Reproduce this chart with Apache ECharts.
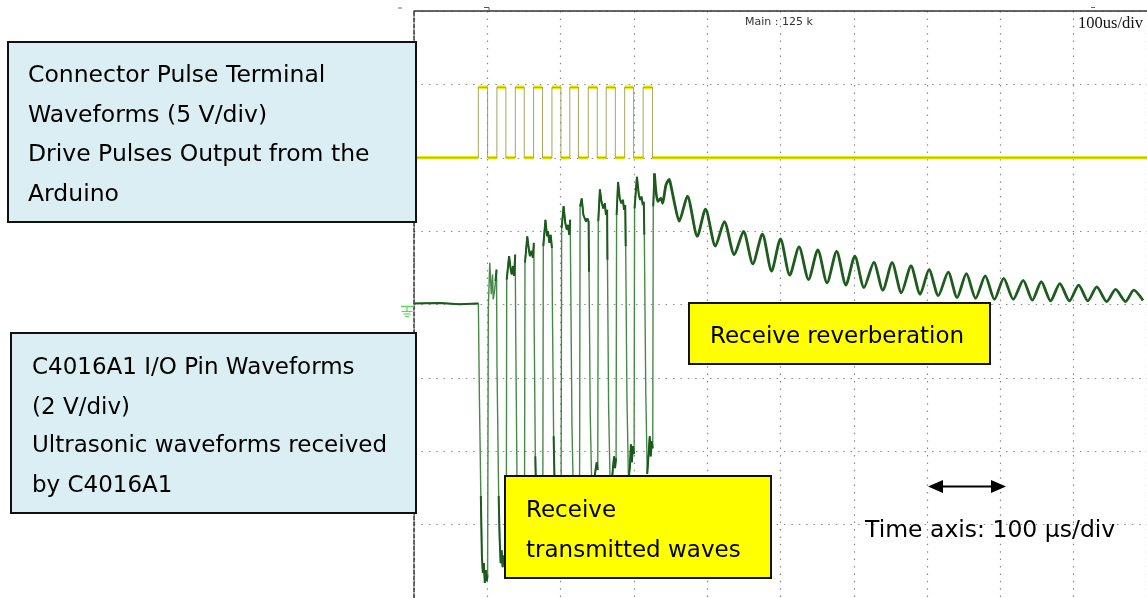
<!DOCTYPE html>
<html><head><meta charset="utf-8">
<script src="https://cdn.jsdelivr.net/npm/echarts@6/dist/echarts.min.js"></script>
<style>html,body{margin:0;padding:0;background:#fff}#c{width:1147px;height:598px}</style>
</head><body><div id="c"></div>
<script>
// ---- Drive pulses (yellow, 5 V/div), time in microseconds ----
const pulseRise = [87.8, 113.1, 138.2, 163.1, 188.2, 212.6, 237.8, 262.2, 287.4, 312.6];
const pulseFall = [100.4, 125.3, 150.4, 175.3, 200.4, 224.3, 250.0, 274.7, 299.6, 325.3];
const pulseHigh = 4.8;   // V
const pulseLow = 0;      // V
const timeEnd = 1000;    // us (10 div x 100 us)

// ---- C4016A1 I/O pin, transmit phase (green, 2 V/div) ----
const txTime = [0, 35.1, 62.2, 87.8, 89.2, 91.2, 92.6, 93.9, 95.3, 96.6, 98.0, 99.3, 100.4,
 101.4, 103.4, 105.4, 107.2, 108.1, 109.9, 111.2, 112.6,
 113.2, 115.5, 116.9, 118.2, 119.6, 120.9, 123.0, 125.0, 125.9,
 126.5, 129.7, 132.0, 133.4, 135.1, 136.5, 138.1,
 138.8, 140.5, 142.6, 144.6, 146.6, 148.6, 150.7,
 151.4, 154.5, 156.8, 158.1, 160.4, 162.2, 163.5,
 163.9, 165.5, 167.6, 169.6, 171.6, 173.6, 175.7,
 176.4, 179.3, 181.5, 182.8, 184.7, 186.5, 188.2,
 188.8, 190.5, 192.6, 194.6, 196.6, 198.6, 200.7,
 201.4, 204.1, 206.4, 208.5, 209.9, 211.8, 213.1,
 213.9, 215.5, 217.6, 219.6, 221.6, 223.6, 225.9,
 226.6, 228.8, 231.1, 233.4, 234.7, 236.5, 238.2,
 238.8, 240.5, 242.6, 244.6, 246.6, 248.0, 249.3, 250.7,
 251.4, 253.6, 255.8, 258.1, 260.4, 261.8, 263.5,
 263.9, 265.5, 267.6, 269.6, 271.6, 273.0, 274.3, 275.7,
 276.4, 278.4, 280.7, 282.8, 285.1, 286.5, 288.2,
 288.8, 290.5, 292.6, 294.6, 295.9, 297.3, 298.6, 300.3,
 300.9, 304.1, 306.8, 308.5, 310.4, 312.2, 313.5,
 314.2, 316.2, 318.2, 320.3, 321.6, 323.0, 324.3, 325.7,
 326.4, 328.0];
const txVolt = [0.03, 0.04, 0.01, 0.03, -2.51, -5.22, -6.84, -7.32, -7.05, -7.59, -7.24, -7.54, -7.38,
 -0.08, 1.14, 0.28, 0.82, 0.14, 0.37, 0.64, 0.95,
 -1.65, -5.22, -6.43, -7.05, -6.70, -7.16, -6.84, -7.00, -6.62,
 0.68, 1.32, 0.95, 0.82, 1.05, 0.78, 1.36,
 -0.84, -4.68, -6.51, -6.73, -6.51, -6.43, -6.16,
 1.14, 1.86, 1.49, 1.32, 1.46, 1.27, 1.68,
 -0.46, -4.14, -6.16, -6.35, -6.08, -5.97, -5.70,
 1.59, 2.31, 1.86, 2.00, 1.68, 1.90, 1.54,
 -0.05, -3.59, -5.70, -5.89, -5.62, -5.54, -5.22,
 2.08, 2.68, 2.22, 2.04, 2.17, 1.90, 2.31,
 0.44, -3.32, -5.35, -5.49, -5.22, -5.08, -4.81,
 2.67, 2.89, 2.44, 2.49, 2.26, 2.35, 2.26,
 0.89, -3.05, -5.08, -5.16, -4.68, -4.46, -4.30, -4.51,
 2.27, 3.14, 2.80, 2.62, 2.76, 2.44, 2.58,
 1.22, -2.78, -4.95, -4.89, -4.41, -4.14, -4.46, -4.19,
 2.44, 3.34, 2.89, 2.76, 2.85, 2.58, 2.71,
 1.59, -2.51, -4.81, -4.41, -3.81, -4.30, -3.86, -4.08,
 2.62, 3.48, 2.98, 2.85, 2.94, 2.71, 2.80,
 1.90, -2.38, -4.62, -4.00, -3.59, -4.14, -3.73, -3.92,
 2.68, 3.57];

// ---- reverberation phase (green) ----
const revTime = [328.0, 332.4, 336.9, 339.2, 343.6, 348.2, 350.4, 355.4, 361.8, 373.0, 386.5,
 397.7, 411.2, 423.4, 436.9, 449.6, 462.2, 475.3, 487.8, 500.0, 512.6, 525.3, 538.2, 550.9,
 563.5, 576.6, 589.2, 601.4, 613.9, 627.4, 639.6, 652.3, 664.9, 678.0, 690.5, 702.7, 715.3,
 728.8, 740.9, 753.6, 766.2, 779.3, 791.9, 804.5, 817.6, 831.1, 843.6, 855.8, 868.5, 881.1,
 894.2, 906.8, 919.3, 931.5, 945.0, 957.2, 970.7, 982.0, 994.6];
const revVolt = [3.57, 2.81, 2.89, 2.76, 3.25, 3.41, 3.25, 2.76, 2.27, 2.95, 1.86,
 2.60, 1.59, 2.26, 1.36, 1.99, 1.11, 1.92, 0.91, 1.79, 0.80, 1.57, 0.68, 1.49,
 0.59, 1.45, 0.53, 1.32, 0.46, 1.15, 0.39, 1.14, 0.32, 1.05, 0.28, 0.95, 0.24,
 0.88, 0.19, 0.84, 0.17, 0.78, 0.14, 0.71, 0.14, 0.66, 0.12, 0.62, 0.10, 0.57,
 0.10, 0.53, 0.10, 0.48, 0.08, 0.41, 0.08, 0.39, 0.11];

// ---- build series data ----
const yellowFull = [[0, pulseLow]];
const yellowLevels = [[0, pulseLow]];
for (let i = 0; i < pulseRise.length; i++) {
  yellowFull.push([pulseRise[i], pulseLow], [pulseRise[i], pulseHigh], [pulseFall[i], pulseHigh], [pulseFall[i], pulseLow]);
  yellowLevels.push([pulseRise[i], pulseLow], [pulseRise[i], '-'], [pulseRise[i], pulseHigh], [pulseFall[i], pulseHigh], [pulseFall[i], '-'], [pulseFall[i], pulseLow]);
}
yellowFull.push([timeEnd, pulseLow]);
yellowLevels.push([timeEnd, pulseLow]);
const txData = txTime.map((t, i) => [t, txVolt[i]]);
const revData = revTime.map((t, i) => [t, revVolt[i]]);
// plateau segments (high, low and ground phases) drawn darker, edges stay thin
const cls = v => v > 0.5 ? 1 : (v < -3.5 ? -1 : (Math.abs(v) < 0.1 ? 2 : 0));
const txPlateau = [];
txTime.forEach((t, i) => {
  const c = cls(txVolt[i]);
  if (c === 0) { txPlateau.push([t, '-']); return; }
  if (i > 0 && cls(txVolt[i - 1]) !== c) txPlateau.push([t, '-']);
  txPlateau.push([t, txVolt[i]]);
});

const chart = echarts.init(document.getElementById('c'), null, {renderer: 'canvas'});
const F = '"DejaVu Sans", sans-serif';
const txt = (s, x, y, size) => ({type: 'text', x: x, y: y, z: 110,
  style: {text: s, font: size + 'px ' + F, fill: '#000', textVerticalAlign: 'middle', verticalAlign: 'middle'}});
const dotted = {color: '#8a8a8a', width: 1.2, type: [1.5, 5.9]};

chart.setOption({
  animation: false,
  backgroundColor: '#fff',
  grid: {left: 414, top: 11, width: 740, height: 592},
  xAxis: {type: 'value', min: 0, max: timeEnd, interval: 100, position: 'top',
    axisLine: {show: true, onZero: false, lineStyle: {color: '#333', width: 1.5}},
    axisTick: {show: false}, axisLabel: {show: false},
    splitLine: {show: true, lineStyle: dotted}},
  yAxis: [
    {type: 'value', min: -8, max: 8, interval: 2,
      axisLine: {show: true, onZero: false, lineStyle: {color: '#333', width: 1.5, type: [4, 2]}},
      axisTick: {show: false}, axisLabel: {show: false},
      splitLine: {show: true, lineStyle: dotted}},
    {type: 'value', min: -30, max: 10, interval: 5, show: false, splitLine: {show: false}}
  ],
  series: [
    {type: 'line', yAxisIndex: 1, data: yellowLevels, showSymbol: false, connectNulls: false,
      lineStyle: {color: '#eeee10', width: 3.6}, z: 2},
    {type: 'line', yAxisIndex: 1, data: yellowFull, showSymbol: false,
      lineStyle: {color: '#8e8e3c', width: 1, opacity: 0.8}, z: 3},
    {type: 'line', yAxisIndex: 0, data: txData, showSymbol: false,
      lineStyle: {color: '#478a47', width: 1.4}, z: 4},
    {type: 'line', yAxisIndex: 0, data: txPlateau, showSymbol: false, connectNulls: false,
      lineStyle: {color: '#1d5a1d', width: 2}, z: 5},
    {type: 'line', yAxisIndex: 0, data: revData, showSymbol: false, smooth: 0.25,
      lineStyle: {color: '#1d5c1d', width: 2.8}, z: 5}
  ],
  graphic: {elements: [
    // small top marks
    {type: 'line', z: 50, shape: {x1: 398, y1: 8, x2: 402, y2: 8}, style: {stroke: '#666', lineWidth: 1}},
    {type: 'line', z: 50, shape: {x1: 484, y1: 7.5, x2: 489, y2: 7.5}, style: {stroke: '#555', lineWidth: 1}},
    {type: 'line', z: 50, shape: {x1: 489, y1: 7.5, x2: 489, y2: 10}, style: {stroke: '#555', lineWidth: 1}},
    {type: 'line', z: 50, shape: {x1: 1091, y1: 7.5, x2: 1095, y2: 7.5}, style: {stroke: '#666', lineWidth: 1}},
    // ground marker
    {type: 'line', z: 50, shape: {x1: 401, y1: 306.5, x2: 414, y2: 306.5}, style: {stroke: '#5fd35f', lineWidth: 1.5}},
    {type: 'line', z: 50, shape: {x1: 407, y1: 306.5, x2: 407, y2: 311.5}, style: {stroke: '#5fd35f', lineWidth: 1.2}},
    {type: 'line', z: 50, shape: {x1: 401.5, y1: 311.5, x2: 412.5, y2: 311.5}, style: {stroke: '#5fd35f', lineWidth: 1.2}},
    {type: 'line', z: 50, shape: {x1: 403.5, y1: 314, x2: 410.5, y2: 314}, style: {stroke: '#5fd35f', lineWidth: 1.2}},
    {type: 'line', z: 50, shape: {x1: 405, y1: 316.5, x2: 409, y2: 316.5}, style: {stroke: '#5fd35f', lineWidth: 1.2}},
    // scope header texts
    {type: 'text', x: 745, y: 22, z: 60, style: {text: 'Main : 125 k', font: '11px ' + F, fill: '#333', textVerticalAlign: 'middle', verticalAlign: 'middle'}},
    {type: 'text', x: 1078, y: 24, z: 60, style: {text: '100us/div', font: '16.5px "Liberation Serif", serif', fill: '#111', textVerticalAlign: 'middle', verticalAlign: 'middle'}},
    // blue annotation boxes
    {type: 'rect', z: 100, shape: {x: 8, y: 42, width: 408, height: 180}, style: {fill: '#daeef3', stroke: '#111', lineWidth: 2}},
    txt('Connector Pulse Terminal', 28, 76, 23.5),
    txt('Waveforms (5 V/div)', 28, 115.5, 23.5),
    txt('Drive Pulses Output from the', 28, 155, 23.5),
    txt('Arduino', 28, 195, 23.5),
    {type: 'rect', z: 100, shape: {x: 11, y: 333, width: 405, height: 180}, style: {fill: '#daeef3', stroke: '#111', lineWidth: 2}},
    txt('C4016A1 I/O Pin Waveforms', 32, 368.5, 23),
    txt('(2 V/div)', 32, 408.5, 23),
    txt('Ultrasonic waveforms received', 32, 446.5, 23),
    txt('by C4016A1', 32, 486.5, 23),
    // yellow annotation boxes
    {type: 'rect', z: 100, shape: {x: 689, y: 303, width: 301, height: 61}, style: {fill: '#ffff00', stroke: '#111', lineWidth: 2}},
    txt('Receive reverberation', 710, 337, 23),
    {type: 'rect', z: 100, shape: {x: 505, y: 476, width: 266, height: 102}, style: {fill: '#ffff00', stroke: '#111', lineWidth: 2}},
    txt('Receive', 526, 511, 23),
    txt('transmitted waves', 526, 551, 23),
    // time-axis arrow
    {type: 'line', z: 100, shape: {x1: 940, y1: 486.5, x2: 994, y2: 486.5}, style: {stroke: '#000', lineWidth: 2.2}},
    {type: 'polygon', z: 100, shape: {points: [[928, 486.5], [943, 480], [943, 493]]}, style: {fill: '#000'}},
    {type: 'polygon', z: 100, shape: {points: [[1006, 486.5], [991, 480], [991, 493]]}, style: {fill: '#000'}},
    txt('Time axis: 100 \u00b5s/div', 865, 530.5, 23.5)
  ]}
});
</script></body></html>
